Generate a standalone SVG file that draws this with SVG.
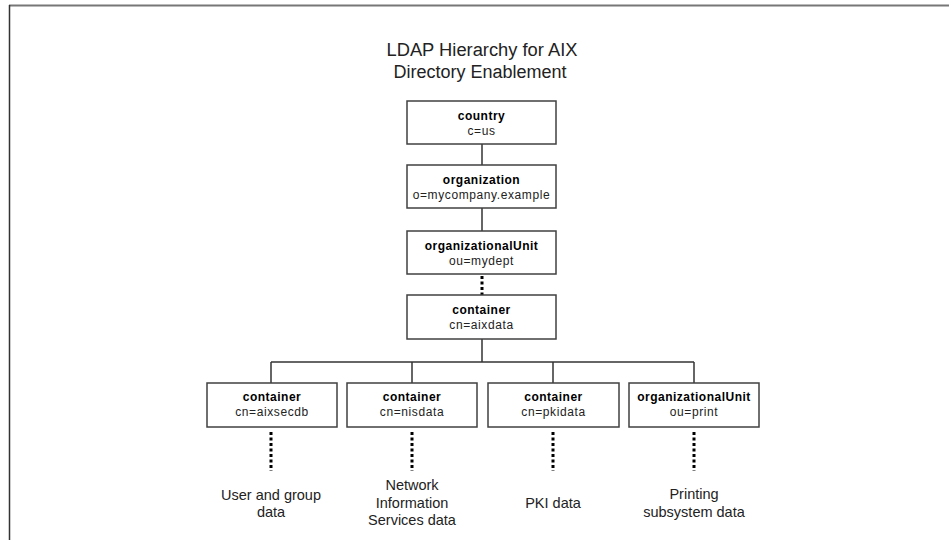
<svg xmlns="http://www.w3.org/2000/svg" width="949" height="540" viewBox="0 0 949 540">
<style>
.box{fill:#fff;stroke:#404040;stroke-width:1.5}
.lbl{font-family:"Liberation Sans",Arial,sans-serif;font-size:12px;font-weight:bold;fill:#000;text-anchor:middle;letter-spacing:0.5px}
.val{font-family:"Liberation Sans",Arial,sans-serif;font-size:12px;fill:#222;text-anchor:middle;letter-spacing:0.6px}
.title{font-family:"Liberation Sans",Arial,sans-serif;font-size:18px;fill:#222;text-anchor:middle}
.note{font-family:"Liberation Sans",Arial,sans-serif;font-size:14.5px;fill:#222;text-anchor:middle}
.ln{stroke:#333;stroke-width:1.5;fill:none}
.dot{stroke:#000;stroke-width:3;stroke-dasharray:3 2.5;fill:none}
</style>
<rect x="0" y="0" width="949" height="540" fill="#fff"/>
<g id="frame">
<line x1="9" y1="5.5" x2="949" y2="5.5" stroke="#777" stroke-width="2"/>
<line x1="9.5" y1="5" x2="9.5" y2="540" stroke="#333" stroke-width="1.5"/>
</g>
<g id="title">
<text class="title" x="482" y="56" textLength="191" lengthAdjust="spacingAndGlyphs">LDAP Hierarchy for AIX</text>
<text class="title" x="480" y="78" textLength="173" lengthAdjust="spacingAndGlyphs">Directory Enablement</text>
</g>
<g id="connectors">
<line class="ln" x1="482" y1="144" x2="482" y2="165"/>
<line class="ln" x1="482" y1="208" x2="482" y2="231"/>
<line class="dot" x1="482" y1="276" x2="482" y2="295"/>
<line class="ln" x1="482" y1="339" x2="482" y2="362"/>
<line class="ln" x1="271" y1="362" x2="694" y2="362"/>
<line class="ln" x1="271" y1="362" x2="271" y2="383"/>
<line class="ln" x1="412" y1="362" x2="412" y2="383"/>
<line class="ln" x1="553" y1="362" x2="553" y2="383"/>
<line class="ln" x1="694" y1="362" x2="694" y2="383"/>
<line class="dot" x1="271" y1="432" x2="271" y2="471"/>
<line class="dot" x1="412" y1="432" x2="412" y2="471"/>
<line class="dot" x1="553" y1="432" x2="553" y2="471"/>
<line class="dot" x1="694" y1="432" x2="694" y2="471"/>
</g>
<g id="country">
<rect class="box" x="407" y="101" width="149" height="43"/>
<text class="lbl" x="481.5" y="120">country</text>
<text class="val" x="481.5" y="135">c=us</text>
</g>
<g id="organization">
<rect class="box" x="407" y="165" width="149" height="43"/>
<text class="lbl" x="481.5" y="184">organization</text>
<text class="val" x="481.5" y="199">o=mycompany.example</text>
</g>
<g id="orgunit">
<rect class="box" x="407" y="231" width="149" height="43"/>
<text class="lbl" x="481.5" y="250">organizationalUnit</text>
<text class="val" x="481.5" y="265">ou=mydept</text>
</g>
<g id="aixdata">
<rect class="box" x="407" y="295" width="149" height="44"/>
<text class="lbl" x="481.5" y="314">container</text>
<text class="val" x="481.5" y="329">cn=aixdata</text>
</g>
<g id="aixsecdb">
<rect class="box" x="207" y="383" width="130" height="44"/>
<text class="lbl" x="272" y="401">container</text>
<text class="val" x="272" y="416">cn=aixsecdb</text>
<text class="note" x="271" y="500">User and group</text>
<text class="note" x="271" y="517">data</text>
</g>
<g id="nisdata">
<rect class="box" x="347" y="383" width="130" height="44"/>
<text class="lbl" x="412" y="401">container</text>
<text class="val" x="412" y="416">cn=nisdata</text>
<text class="note" x="412" y="490">Network</text>
<text class="note" x="412" y="508">Information</text>
<text class="note" x="412" y="525">Services data</text>
</g>
<g id="pkidata">
<rect class="box" x="488" y="383" width="131" height="44"/>
<text class="lbl" x="553.5" y="401">container</text>
<text class="val" x="553.5" y="416">cn=pkidata</text>
<text class="note" x="553" y="508">PKI data</text>
</g>
<g id="print">
<rect class="box" x="629" y="383" width="130" height="44"/>
<text class="lbl" x="694" y="401">organizationalUnit</text>
<text class="val" x="694" y="416">ou=print</text>
<text class="note" x="694" y="499">Printing</text>
<text class="note" x="694" y="517">subsystem data</text>
</g>
</svg>
